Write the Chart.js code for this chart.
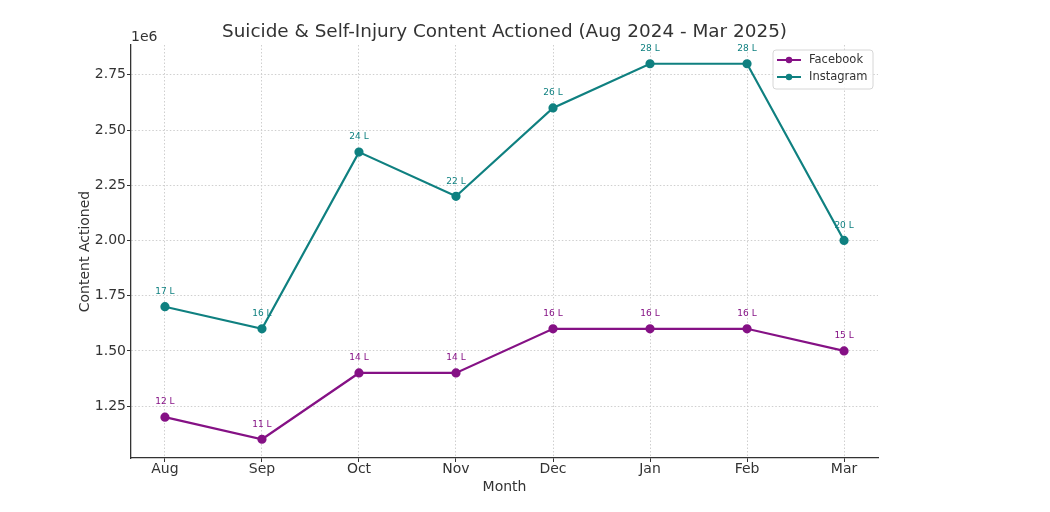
<!DOCTYPE html>
<html>
<head>
<meta charset="utf-8">
<script src="https://cdn.jsdelivr.net/npm/chart.js@4.4.1/dist/chart.umd.min.js"></script>
<style>
  html, body { margin: 0; padding: 0; background: #fff; }
  #wrap { width: 1050px; height: 512px; }
</style>
</head>
<body>
<div id="wrap"><canvas id="contentChart"></canvas></div>
<script>
const months = ["Aug", "Sep", "Oct", "Nov", "Dec", "Jan", "Feb", "Mar"];
const facebook = [1200000, 1100000, 1400000, 1400000, 1600000, 1600000, 1600000, 1500000];
const instagram = [1700000, 1600000, 2400000, 2200000, 2600000, 2800000, 2800000, 2000000];
const yTicks = [1250000, 1500000, 1750000, 2000000, 2250000, 2500000, 2750000];

const FONT = "'DejaVu Sans', sans-serif";
const TEXT = "#333333";
const PURPLE = "#851185";
const TEAL = "#0f8080";

function points(values) {
  return values.map((v, i) => ({ x: i, y: v }));
}

/* ======================
   EXTRAS: title, 1e6, labels, legend
====================== */
const extras = {
  id: "extras",
  afterDatasetsDraw(chart) {
    const ctx = chart.ctx;
    const area = chart.chartArea;
    const xs = chart.scales.x;
    const ys = chart.scales.y;
    ctx.save();

    // title
    ctx.fillStyle = TEXT;
    ctx.font = "18.4px " + FONT;
    ctx.textAlign = "center";
    ctx.textBaseline = "middle";
    ctx.fillText("Suicide & Self-Injury Content Actioned (Aug 2024 - Mar 2025)", (area.left + area.right) / 2, 32);

    // offset text
    ctx.font = "14px " + FONT;
    ctx.textAlign = "left";
    ctx.fillText("1e6", area.left, 37);

    // value labels in lakh
    ctx.font = "9px " + FONT;
    ctx.textAlign = "center";
    [[facebook, PURPLE], [instagram, TEAL]].forEach(([vals, col]) => {
      ctx.fillStyle = col;
      vals.forEach((v, i) => {
        const px = xs.getPixelForValue(i);
        const py = ys.getPixelForValue(v);
        ctx.fillText(Math.round(v / 100000) + " L", px, py - 15);
      });
    });

    // legend
    const lx = area.right - 105, ly = area.top + 5;
    ctx.fillStyle = "rgba(255,255,255,0.85)";
    ctx.strokeStyle = "#d6d6d6";
    ctx.lineWidth = 1;
    ctx.beginPath();
    ctx.roundRect(lx, ly, 100, 39, 3);
    ctx.fill();
    ctx.stroke();
    [["Facebook", PURPLE], ["Instagram", TEAL]].forEach(([name, col], k) => {
      const yy = ly + 10 + k * 17;
      ctx.strokeStyle = col;
      ctx.lineWidth = 2;
      ctx.beginPath();
      ctx.moveTo(lx + 4, yy);
      ctx.lineTo(lx + 28, yy);
      ctx.stroke();
      ctx.fillStyle = col;
      ctx.beginPath();
      ctx.arc(lx + 16, yy, 3.2, 0, Math.PI * 2);
      ctx.fill();
      ctx.fillStyle = TEXT;
      ctx.font = "11.5px " + FONT;
      ctx.textAlign = "left";
      ctx.fillText(name, lx + 36, yy);
    });

    ctx.restore();
  }
};

new Chart(document.getElementById("contentChart"), {
  type: "line",
  data: {
    datasets: [
      {
        label: "Facebook",
        data: points(facebook),
        borderColor: PURPLE,
        backgroundColor: PURPLE,
        borderWidth: 2.2,
        pointRadius: 3.5,
        pointHoverRadius: 3.5,
        tension: 0
      },
      {
        label: "Instagram",
        data: points(instagram),
        borderColor: TEAL,
        backgroundColor: TEAL,
        borderWidth: 2.2,
        pointRadius: 3.5,
        pointHoverRadius: 3.5,
        tension: 0
      }
    ]
  },
  options: {
    responsive: true,
    maintainAspectRatio: false,
    animation: false,
    layout: { padding: { left: 74, right: 172, top: 45, bottom: 16 } },
    plugins: {
      legend: { display: false },
      tooltip: { enabled: false },
      title: { display: false }
    },
    scales: {
      x: {
        type: "linear",
        min: -0.35,
        max: 7.35,
        afterBuildTicks: (s) => { s.ticks = months.map((m, i) => ({ value: i })); },
        afterFit: (s) => { s.height = 38; },
        ticks: {
          callback: (v) => months[v],
          color: TEXT,
          font: { family: FONT, size: 14 },
          padding: -1,
          maxRotation: 0
        },
        grid: { color: "#cfcfcf", tickLength: 4, tickBorderDash: [], tickColor: TEXT },
        border: { display: true, color: TEXT, width: 1.3, dash: [1.5, 2] },
        title: { display: true, text: "Month", color: TEXT, font: { family: FONT, size: 14 }, padding: 0 }
      },
      y: {
        min: 1015000,
        max: 2885000,
        afterBuildTicks: (s) => { s.ticks = yTicks.map((v) => ({ value: v })); },
        afterFit: (s) => { s.width = 57; },
        ticks: {
          callback: (v) => (v / 1000000).toFixed(2),
          color: TEXT,
          font: { family: FONT, size: 14 },
          padding: 1
        },
        grid: { color: "#cfcfcf", tickLength: 4, tickBorderDash: [], tickColor: TEXT },
        border: { display: true, color: TEXT, width: 1.3, dash: [1.5, 2] },
        title: { display: true, text: "Content Actioned", color: TEXT, font: { family: FONT, size: 14 }, padding: 3 }
      }
    }
  },
  plugins: [extras]
});
</script>
</body>
</html>
